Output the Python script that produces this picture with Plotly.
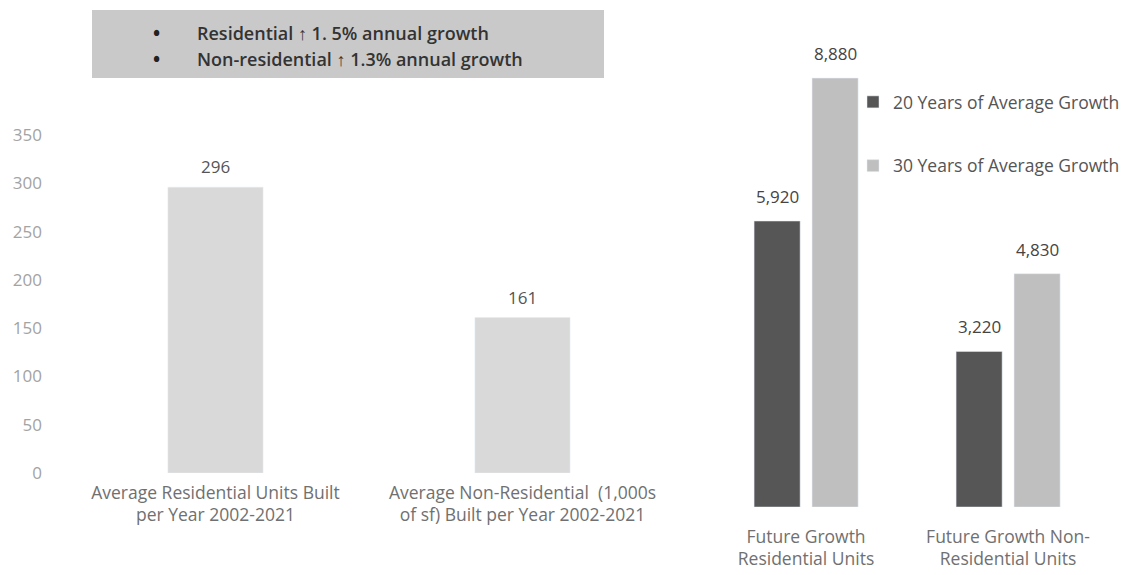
import plotly.graph_objects as go

# Left chart data
left_categories = ["Average Residential Units Built<br>per Year 2002-2021",
                   "Average Non-Residential  (1,000s<br>of sf) Built per Year 2002-2021"]
left_values = [296, 161]
left_ticks = [0, 50, 100, 150, 200, 250, 300, 350]

# Right chart data
right_categories = ["Future Growth<br>Residential Units", "Future Growth Non-<br>Residential Units"]
growth_20 = [5920, 3220]
growth_30 = [8880, 4830]
series_names = ["20 Years of Average Growth", "30 Years of Average Growth"]

note_lines = ["Residential \u2191 1. 5% annual growth", "Non-residential \u2191 1.3% annual growth"]

W, H = 1136, 575
FONT = "Open Sans"

def px(x):
    return x / W

def py(y):
    return 1 - y / H

fig = go.Figure()

fig.add_trace(go.Bar(
    x=left_categories, y=left_values, xaxis="x", yaxis="y",
    marker=dict(color="#d9d9d9"), width=0.31,
    cliponaxis=False, showlegend=False,
))

fig.add_trace(go.Bar(
    x=right_categories, y=growth_20, xaxis="x2", yaxis="y2", name=series_names[0],
    marker=dict(color="#565656"), width=0.228, offset=-0.257,
    cliponaxis=False, legendgroup="a",
))
fig.add_trace(go.Bar(
    x=right_categories, y=growth_30, xaxis="x2", yaxis="y2", name=series_names[1],
    marker=dict(color="#bfbfbf"), width=0.228, offset=0.03,
    cliponaxis=False, legendgroup="b",
))

# value labels
for cat, v in zip(left_categories, left_values):
    fig.add_annotation(xref="x", yref="y", x=cat, y=v, text=f"{v:,}", showarrow=False,
                       yanchor="bottom", yshift=7,
                       font=dict(size=17, color="#555555", family=FONT))
for cat, v in zip(right_categories, growth_20):
    fig.add_annotation(xref="x2", yref="y2", x=cat, y=v, text=f"{v:,}", showarrow=False,
                       yanchor="bottom", yshift=11, xshift=-29,
                       font=dict(size=17, color="#444444", family=FONT))
for cat, v in zip(right_categories, growth_30):
    fig.add_annotation(xref="x2", yref="y2", x=cat, y=v, text=f"{v:,}", showarrow=False,
                       yanchor="bottom", yshift=11, xshift=29,
                       font=dict(size=17, color="#444444", family=FONT))

fig.update_layout(
    width=W, height=H,
    margin=dict(l=0, r=0, t=0, b=0, autoexpand=False),
    paper_bgcolor="white", plot_bgcolor="white",
    barmode="overlay",
    font=dict(family=FONT),
    xaxis=dict(domain=[px(62), px(676)], anchor="y", showgrid=False, showline=False,
               zeroline=False, ticks="", tickfont=dict(size=17.5, color="#707070"),
               range=[-0.5, 1.5], ticklabelstandoff=7, automargin=False),
    yaxis=dict(domain=[py(473), py(135)], anchor="x", range=[0, 350],
               tickvals=left_ticks, showgrid=False, showline=False, zeroline=False,
               tickfont=dict(size=17, color="#a3a3a3"), ticklabelstandoff=19,
               automargin=False),
    xaxis2=dict(domain=[px(705), px(1109)], anchor="y2", showgrid=False, showline=False,
                zeroline=False, ticks="", tickfont=dict(size=17.5, color="#707070"),
                range=[-0.5, 1.5], ticklabelstandoff=17, automargin=False),
    yaxis2=dict(domain=[py(507), py(60)], anchor="x2", range=[0, 447 / 0.0483],
                visible=False),
    legend=dict(x=px(853), y=py(84), xanchor="left", yanchor="top",
                font=dict(size=17.5, color="#555555", family=FONT),
                tracegroupgap=38, bgcolor="rgba(0,0,0,0)", itemwidth=30),
)

fig.add_shape(type="rect", xref="paper", yref="paper",
              x0=px(92), x1=px(604), y0=py(78), y1=py(10),
              fillcolor="#c9c9c9", line=dict(width=0), layer="below")

for i, line in enumerate(note_lines):
    yy = py(33 + i * 26)
    fig.add_annotation(xref="paper", yref="paper", x=px(151), y=yy, text="<b>\u2022</b>",
                       showarrow=False, xanchor="left", yanchor="middle",
                       font=dict(size=19, color="#222222", family=FONT))
    fig.add_annotation(xref="paper", yref="paper", x=px(195), y=yy, text=line,
                       showarrow=False, xanchor="left", yanchor="middle",
                       font=dict(size=18, color="#333333", family=FONT, weight=600))

fig.write_html("out.html")
